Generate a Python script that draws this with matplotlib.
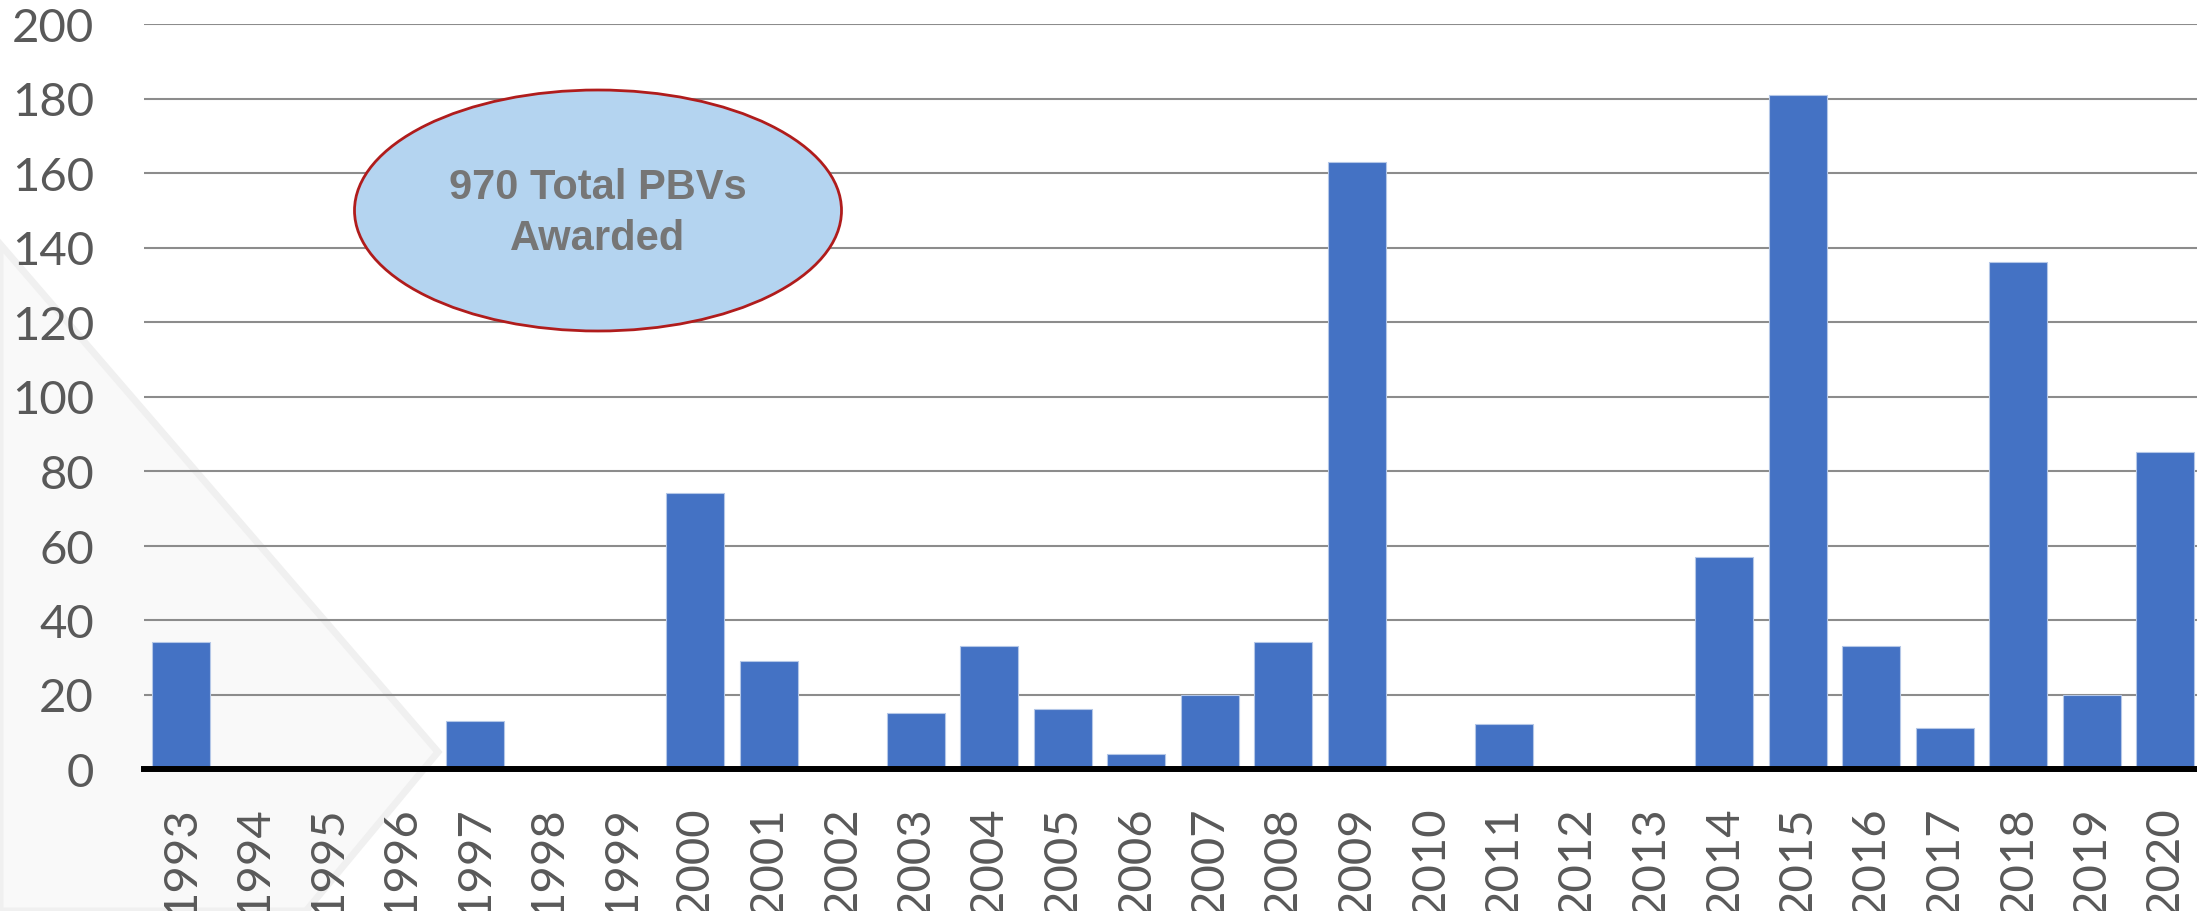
import numpy as np
import matplotlib
matplotlib.use('Agg')
from matplotlib import pyplot as plt
from matplotlib.patches import Ellipse, Polygon

years = [str(y) for y in range(1993, 2021)]
awarded = [34, 0, 0, 0, 13, 0, 0, 74, 29, 0, 15, 33, 16, 4, 20, 34, 163,
           0, 12, 0, 0, 57, 181, 33, 11, 136, 20, 85]
yticks = [0, 20, 40, 60, 80, 100, 120, 140, 160, 180, 200]
note = '970 Total PBVs\nAwarded'

W, H = 2197, 912
fig = plt.figure(figsize=(W / 100, H / 100), dpi=100)

# faint slide watermark in the lower left, behind everything
pts = np.array([[0, 245], [438, 753], [306, 912], [0, 912]], dtype=float)
pts[:, 0] /= W
pts[:, 1] = 1 - pts[:, 1] / H
fig.patches.append(Polygon(pts, closed=True, transform=fig.transFigure,
                           fc='#f9f9f9', ec='#f0f0f0', lw=5, zorder=-5))

ax = fig.add_axes([144 / W, 1 - 770 / H, (2202 - 144) / W, (770 - 25) / H])
ax.set_zorder(1)
ax.patch.set_alpha(0)

x = np.arange(len(years))
ax.bar(x, awarded, width=0.785, color='#4472C4', edgecolor='#b4c7e7',
       linewidth=0.8, zorder=3)

ax.set_xlim(-0.5, len(years) - 0.5)
ax.set_ylim(0, 200)
ax.set_yticks(yticks)
ax.set_xticks(x)
ax.set_xticklabels(years, rotation=90, va='top', ha='center')
ax.grid(axis='y', color='#8c8c8c', lw=1.5, zorder=1)
ax.axhline(0, color='black', lw=4.3, zorder=4, clip_on=False)
for s in ax.spines.values():
    s.set_visible(False)
ax.tick_params(axis='both', length=0, labelsize=34, labelcolor='#595959')
ax.tick_params(axis='y', pad=36)
ax.tick_params(axis='x', pad=26)
for lab in ax.get_xticklabels() + ax.get_yticklabels():
    lab.set_family('Lato')

# callout ellipse
cx, cy = 598 / W, 1 - 211.5 / H
ax.add_patch(Ellipse((cx, cy), 487 / W, 241 / H, transform=fig.transFigure,
                     fc='#b4d4f0', ec='#b01c1c', lw=2, zorder=6, clip_on=False))
ax.text(cx, cy - 2 / H, note, transform=fig.transFigure, ha='center', va='center',
        fontsize=30, fontweight='bold', color='#767676',
        family='Liberation Sans', linespacing=1.38, zorder=7)

fig.savefig('out.png', dpi=100)
